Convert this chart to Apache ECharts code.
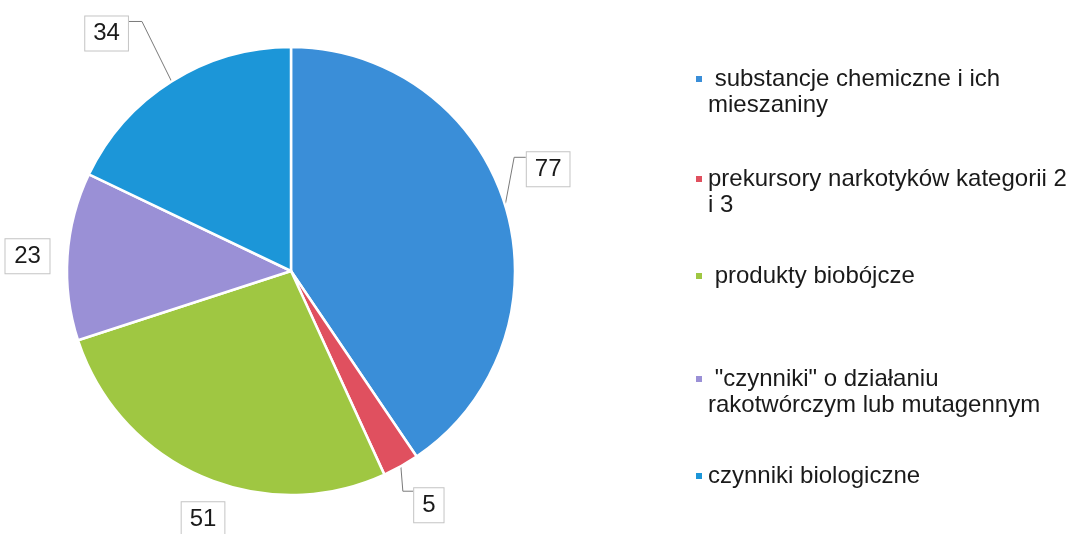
<!DOCTYPE html>
<html>
<head>
<meta charset="utf-8">
<script src="https://cdn.jsdelivr.net/npm/echarts@6/dist/echarts.min.js"></script>
<style>
html,body{margin:0;padding:0;background:#fff;}
#chart{width:1074px;height:534px;}
</style>
</head>
<body>
<div id="chart"></div>
<script>
const categories = [
  ' substancje chemiczne i ich\nmieszaniny',
  'prekursory narkotyków kategorii 2\ni 3',
  ' produkty biobójcze',
  ' "czynniki" o działaniu\nrakotwórczym lub mutagennym',
  'czynniki biologiczne'
];
const values = [77, 5, 51, 23, 34];
const colors = ['#3a8ed8', '#e0505f', '#9fc742', '#9a90d6', '#1c96d8'];

// layout tuning (label centre offsets from the slice's edge point)
const labelOffsets = [[43, -36], [28, 39], [2, 43], [-40, 0], [-65, -48]];
const legendTops = [40, 140, 263, 340, 463];

const chart = echarts.init(document.getElementById('chart'));

const legends = categories.map((name, i) => {
  const twoLine = name.indexOf('\n') >= 0;
  return {
    left: 694,
    top: legendTops[i],
    padding: 0,
    orient: 'vertical',
    icon: 'rect',
    itemWidth: 8,
    itemHeight: 8,
    selectedMode: false,
    data: [name],
    formatter: function (n) { return twoLine ? '\n' + n : n; },
    textStyle: {
      fontFamily: 'Liberation Sans, Arial, sans-serif',
      fontSize: 24,
      lineHeight: 26,
      color: '#1a1a1a'
    }
  };
});

const option = {
  animation: false,
  backgroundColor: '#ffffff',
  color: colors,
  legend: legends,
  series: [{
    type: 'pie',
    center: [291, 271],
    radius: 224,
    startAngle: 90,
    clockwise: true,
    itemStyle: { borderColor: '#ffffff', borderWidth: 2.5 },
    label: {
      show: true,
      position: 'outside',
      formatter: '{c}',
      bleedMargin: 0,
      fontFamily: 'Liberation Sans, Arial, sans-serif',
      fontSize: 24,
      color: '#1a1a1a',
      backgroundColor: '#ffffff',
      borderColor: '#c4c4c4',
      borderWidth: 1,
      padding: [5, 8, 5, 8]
    },
    labelLine: {
      show: true,
      length: 3,
      length2: 3,
      lineStyle: { color: '#7a7a7a', width: 1 }
    },
    labelLayout: function (params) {
      const i = params.dataIndex;
      const pts = params.labelLinePoints;
      const e = pts ? pts[0] : [0, 0];
      const off = labelOffsets[i];
      const cx = e[0] + off[0];
      const cy = e[1] + off[1];
      const w = params.labelRect.width;
      const res = { x: cx, y: cy, align: 'center', verticalAlign: 'middle' };
      if (i === 0) {
        res.labelLinePoints = [e, [e[0] + 9, cy - 12], [cx - w / 2, cy - 12]];
      } else if (i === 1) {
        res.labelLinePoints = [e, [e[0] + 2, cy - 14], [cx - w / 2, cy - 14]];
      } else if (i === 4) {
        res.labelLinePoints = [e, [cx + w / 2 + 13, cy - 12], [cx + w / 2, cy - 12]];
      }
      return res;
    },
    data: categories.map((name, i) => ({
      name: name,
      value: values[i],
      label: i === 3 ? { width: 28, overflow: 'none', align: 'center' } : {},
      labelLine: { show: i !== 2 && i !== 3 }
    }))
  }]
};

chart.setOption(option);
</script>
</body>
</html>
